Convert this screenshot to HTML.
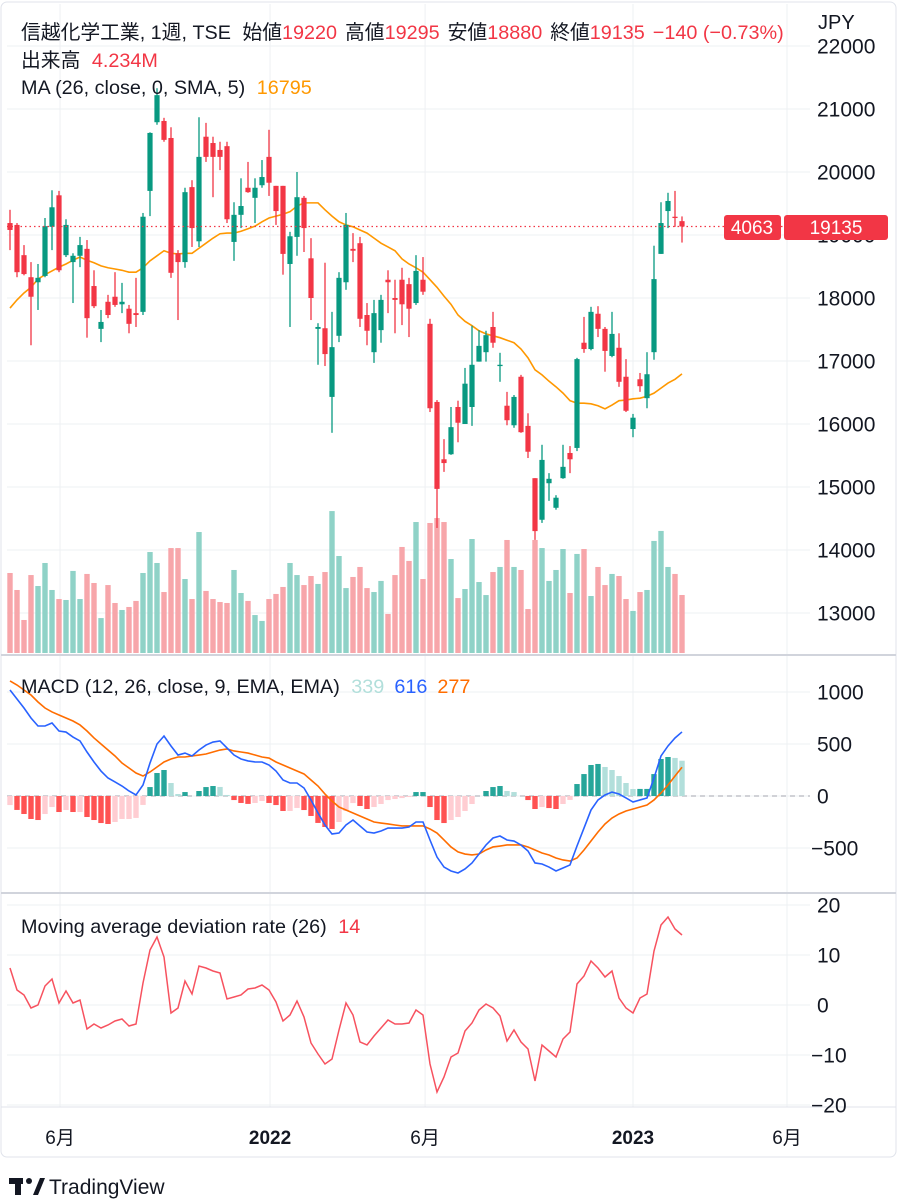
<!DOCTYPE html>
<html><head><meta charset="utf-8"><style>
body{margin:0;background:#fff;}
svg{display:block;font-family:"Liberation Sans","Noto Sans CJK JP",sans-serif;}
</style></head><body>
<svg id="chart" width="903" height="1200" viewBox="0 0 903 1200" xmlns="http://www.w3.org/2000/svg">
<rect x="1" y="2" width="895" height="1155" rx="6" fill="#fff" stroke="#e0e3eb"/>
<g id="grid"></g>
<g id="vol"></g>
<g id="ma"></g>
<g id="candles"></g>
<g id="macd"></g>
<g id="dev"></g>
<g id="axes"></g>
<text x="21" y="39" font-size="19.8" fill="#131722">信越化学工業, 1週, TSE <tspan dx="6">始値</tspan><tspan fill="#f23645">19220</tspan><tspan dx="8">高値</tspan><tspan fill="#f23645">19295</tspan><tspan dx="8">安値</tspan><tspan fill="#f23645">18880</tspan><tspan dx="8">終値</tspan><tspan fill="#f23645">19135</tspan><tspan dx="8" fill="#f23645">−140 (−0.73%)</tspan></text>
<text x="21" y="67" font-size="19.8" fill="#131722">出来高 <tspan dx="6" fill="#f23645">4.234M</tspan></text>
<text x="21" y="94" font-size="19.8" fill="#131722">MA (26, close, 0, SMA, 5) <tspan dx="6" fill="#ff9800">16795</tspan></text>
<text x="21" y="693" font-size="19.8" fill="#131722">MACD (12, 26, close, 9, EMA, EMA) <tspan dx="6" fill="#b2dfdb">339</tspan><tspan dx="10" fill="#2962ff">616</tspan><tspan dx="10" fill="#ff6d00">277</tspan></text>
<text x="21" y="933" font-size="19.8" fill="#131722">Moving average deviation rate (26) <tspan dx="6" fill="#f23645">14</tspan></text>
<text x="818" y="29" font-size="20" fill="#131722">JPY</text>
<g>
<rect x="724" y="215" width="57" height="25" rx="3" fill="#f23645"/>
<text x="752" y="234" font-size="19" fill="#fff" text-anchor="middle">4063</text>
<rect x="784" y="215" width="104" height="25" rx="3" fill="#f23645"/>
<text x="836" y="234" font-size="19" fill="#fff" text-anchor="middle">19135</text>
</g>
<g>
<rect x="9" y="1178" width="14" height="6" fill="#131722"/><rect x="15" y="1178" width="6" height="17" fill="#131722"/>
<circle cx="29" cy="1181" r="3" fill="#131722"/><path d="M33 1195 L40 1178 L45 1178 L38 1195Z" fill="#131722"/>
<text x="49" y="1194" font-size="21" fill="#131722">TradingView</text>
</g>
</svg>
<script>
const opens=[19190,19160,18680,18330,18250,18350,19130,19630,18680,18570,18670,18780,18190,17510,17940,18020,17900,17830,17760,17780,19700,20790,20810,20540,18710,18570,19760,18900,20560,20460,20350,20410,18890,19320,19750,19590,19790,20240,19780,19780,18540,18970,19590,18630,17510,17520,16430,17400,18250,18780,18870,17730,17140,17490,18290,18000,18290,18220,17920,18290,17590,16350,15440,15520,16270,16000,16270,16990,17140,17540,16920,16290,15980,16750,15970,15140,14480,15060,14670,15140,15540,15620,17290,17190,17750,17510,17080,17210,16750,15920,16710,16410,17140,18700,19380,19290,19220];
const highs=[19400,19190,18840,18570,18540,19270,19710,19700,19250,18710,18970,18920,18440,17810,18050,18410,18240,17890,18320,19350,20630,21330,20860,20710,18760,19750,19870,20870,20780,20560,20480,20480,19520,19900,20160,19900,20190,20670,19780,19780,19050,20000,19620,18950,17600,18560,17780,18410,19350,19030,18970,17920,17970,18050,18440,18290,18480,18320,18680,18650,17670,16380,15760,16270,16370,16890,17560,17490,17480,17780,17130,16510,16460,16780,16170,15140,15670,15220,14870,15670,15650,17050,17700,17860,17870,17540,17780,17440,17030,16160,16810,17140,18830,19520,19670,19700,19295];
const lows=[18760,18330,18360,17250,17810,18330,18760,18410,18650,17920,18490,17370,17840,17300,17680,17860,17760,17440,17540,17730,19300,20750,20480,18320,17650,18480,18810,18810,20160,19600,20030,19190,18590,19110,19670,19190,19750,19620,19160,18370,17540,18670,18730,17650,16940,16920,15860,17300,18130,18570,17540,17250,16970,17290,17760,17440,17570,17380,17890,18050,16190,14350,15240,15510,15710,16000,15970,16990,16990,17210,16670,15980,15940,15860,15460,14160,14430,14780,14640,15130,15220,15570,17130,17170,17380,16830,17060,16590,16190,15790,16510,16250,17020,18700,19110,19130,18880];
const closes=[19080,18410,18380,18020,18320,19140,19440,18440,19160,18670,18840,17680,17870,17620,17730,17890,17940,17590,17730,19290,20620,21220,20510,18400,18570,19680,19110,20240,20240,20240,20240,19250,19320,19460,19680,19750,19920,19830,19380,18700,18980,19600,19110,18000,17540,17110,17220,18320,19160,18750,17670,17480,17760,17970,18250,17970,17900,17830,18430,18100,16250,14970,15380,15950,16020,16640,16940,17240,17410,17290,16940,16060,16430,15870,15560,14300,15430,15130,14830,15320,15440,17030,17190,17780,17510,17160,17430,16670,16210,16100,16600,16790,18300,19190,19540,19270,19135];
const volumes=[5.84,4.60,2.41,5.69,4.89,6.57,4.60,3.94,3.87,5.99,3.94,5.77,5.11,2.55,4.96,3.65,3.14,3.36,3.80,5.84,7.37,6.57,4.45,7.66,7.66,5.40,3.94,8.83,4.53,3.94,3.72,3.65,6.06,4.38,3.80,2.77,2.34,3.94,4.31,4.82,6.57,5.69,4.96,5.62,5.04,5.91,10.36,7.08,4.74,5.55,6.28,4.74,4.45,5.26,2.85,5.69,7.74,6.72,9.56,5.40,9.49,9.85,9.56,6.86,4.01,4.67,8.32,5.18,4.23,5.91,6.28,8.25,6.28,6.06,3.21,8.25,7.66,5.26,6.06,7.59,4.38,7.23,7.59,4.16,6.28,4.96,5.77,5.62,3.94,3.07,4.45,4.60,8.18,8.91,6.28,5.77,4.234];
const maValues=[17840,17970,18080,18170,18300,18370,18430,18490,18540,18600,18650,18600,18560,18510,18480,18460,18440,18410,18410,18480,18590,18670,18750,18710,18700,18710,18710,18790,18870,18950,19020,19030,19030,19060,19100,19140,19210,19270,19300,19330,19370,19460,19510,19510,19510,19400,19300,19210,19160,19130,19080,19030,18950,18870,18810,18750,18620,18540,18480,18410,18290,18170,18030,17900,17730,17630,17560,17480,17430,17400,17370,17330,17290,17190,17050,16860,16780,16680,16590,16490,16370,16330,16330,16320,16290,16240,16300,16370,16380,16400,16410,16440,16490,16570,16650,16710,16795];
const macdLine=[1019,933,846,750,673,673,702,625,615,567,529,423,327,240,173,135,96,48,10,106,317,500,577,481,394,413,385,442,490,519,529,462,394,356,337,327,327,298,240,154,125,125,77,-38,-163,-279,-365,-356,-279,-231,-288,-346,-356,-337,-308,-308,-308,-298,-250,-250,-423,-587,-683,-721,-740,-702,-644,-558,-471,-404,-385,-423,-433,-471,-529,-644,-654,-683,-721,-692,-663,-481,-308,-135,-38,10,38,19,-19,-58,-38,-19,173,385,481,558,616];
const signalLine=[1106,1067,1019,971,904,846,808,779,750,721,683,625,558,500,442,385,317,269,221,192,231,279,327,356,375,375,385,394,404,423,442,452,433,423,413,394,375,365,327,298,269,240,212,154,96,19,-48,-106,-135,-163,-192,-221,-250,-260,-269,-279,-288,-288,-288,-288,-317,-356,-423,-490,-538,-558,-567,-558,-519,-490,-481,-471,-471,-471,-490,-519,-548,-567,-596,-615,-625,-596,-519,-433,-346,-269,-212,-173,-144,-125,-106,-87,-38,29,106,192,277];
const deviation=[7.4,3.0,2.0,-0.6,0,3.8,5.2,0.4,2.8,0.4,1.0,-4.8,-3.8,-4.6,-4.0,-3.2,-2.8,-4.2,-3.8,4.4,11,13.6,9.6,-1.6,-0.6,4.8,2.2,7.8,7.4,6.8,6.4,1.2,1.6,2.0,3.2,3.4,4.0,3.0,0.6,-3.2,-2.0,0.8,-2.4,-7.6,-9.8,-11.8,-10.8,-5.0,0.4,-2.0,-7.4,-8.0,-6.2,-4.6,-3.0,-3.8,-3.8,-3.6,-1.0,-2.0,-11.8,-17.4,-14.4,-10.4,-9.6,-5.2,-3.6,-1.0,0.2,-0.6,-2.2,-7.2,-5.0,-7.4,-8.8,-15.2,-8.0,-9.2,-10.4,-6.8,-5.4,4.2,5.8,8.8,7.4,5.6,6.8,1.4,-0.6,-1.6,1.4,2.2,10.8,16,17.6,15.2,14];
const priceTicks=[22000,21000,20000,19000,18000,17000,16000,15000,14000,13000];
const macdTicks=[1000,500,0,-500];
const devTicks=[20,10,0,-10,-20];
const timeLabels=["6月","2022","6月","2023","6月"];
const timeIndex=[7.15,37.15,59.3,89.0,111.0];
const lastPrice=19135;

const NS="http://www.w3.org/2000/svg";
function mk(parent,tag,attrs){const e=document.createElementNS(NS,tag);for(const k in attrs)e.setAttribute(k,attrs[k]);parent.appendChild(e);return e;}
const xOf=i=>10+7*i;
const yPrice=p=>172+(20000-p)*0.063;
const yVol=v=>653-v*13.7;
const yMacd=v=>796-v*0.104;
const yDev=v=>1005-v*5;
const UP="#089981",DN="#f23645";

const grid=document.getElementById('grid');
timeIndex.forEach((t,k)=>{
  const l=mk(grid,'line',{x1:xOf(t),x2:xOf(t),y1:4,y2:1107,stroke:'#eef0f3','stroke-width':1});
  
  
});
priceTicks.forEach(p=>{const l=mk(grid,'line',{x1:7,x2:810,y1:yPrice(p),y2:yPrice(p),stroke:'#eef0f3'});
  
  });
macdTicks.forEach(v=>{const l=mk(grid,'line',{x1:7,x2:810,y1:yMacd(v),y2:yMacd(v),stroke:'#eef0f3'});
  
  });
devTicks.forEach(v=>{const l=mk(grid,'line',{x1:7,x2:810,y1:yDev(v),y2:yDev(v),stroke:'#eef0f3'});
  
  });

const vol=document.getElementById('vol');
volumes.forEach((v,i)=>{const up=closes[i]>=opens[i];
  const r=mk(vol,'rect',{x:xOf(i)-2.7,y:yVol(v),width:5.4,height:653-yVol(v),fill:up?'#8fd2c7':'#f7a6aa'});
  
  });

const ma=document.getElementById('ma');
const maPath=mk(ma,'path',{d:maValues.map((v,i)=>(i?'L':'M')+xOf(i)+' '+yPrice(v)).join(' '),fill:'none',stroke:'#ff9800','stroke-width':1.6});



const cg=document.getElementById('candles');
opens.forEach((o,i)=>{const c=closes[i],up=c>=o,col=up?UP:DN,x=xOf(i);
  const w=mk(cg,'line',{x1:x,x2:x,y1:yPrice(highs[i]),y2:yPrice(lows[i]),stroke:col,'stroke-width':1.3});
  
  
  const top=yPrice(Math.max(o,c)),bot=yPrice(Math.min(o,c));
  const b=mk(cg,'rect',{x:x-2.6,y:top,width:5.2,height:Math.max(1.3,bot-top),fill:col});
  
  });
const pl=mk(cg,'line',{x1:7,x2:810,y1:yPrice(lastPrice),y2:yPrice(lastPrice),stroke:'#f23645','stroke-dasharray':'1.5 3','stroke-width':1.3});



const mg=document.getElementById('macd');
const zl=mk(mg,'line',{x1:7,x2:810,y1:yMacd(0),y2:yMacd(0),stroke:'#a3a6af','stroke-dasharray':'5 4'});


macdLine.forEach((m,i)=>{const h=m-signalLine[i],prev=i?macdLine[i-1]-signalLine[i-1]:h;
  let col;if(h>=0)col=h>=prev?'#26a69a':'#b2dfdb';else col=h<prev?'#ff5252':'#ffcdd2';
  const y0=yMacd(0),y1=yMacd(h);
  const r=mk(mg,'rect',{x:xOf(i)-2.7,y:Math.min(y0,y1),width:5.4,height:Math.abs(y1-y0),fill:col});
  
  });
const sp=mk(mg,'path',{d:signalLine.map((v,i)=>(i?'L':'M')+xOf(i)+' '+yMacd(v)).join(' '),fill:'none',stroke:'#ff6d00','stroke-width':1.6});


const mp=mk(mg,'path',{d:macdLine.map((v,i)=>(i?'L':'M')+xOf(i)+' '+yMacd(v)).join(' '),fill:'none',stroke:'#2962ff','stroke-width':1.6});



const dg=document.getElementById('dev');
const dp=mk(dg,'path',{d:deviation.map((v,i)=>(i?'L':'M')+xOf(i)+' '+yDev(v)).join(' '),fill:'none',stroke:'#f7525f','stroke-width':1.5});



const ax=document.getElementById('axes');
const sep1=mk(ax,'line',{x1:1,x2:896,y1:655,y2:655,stroke:'#d1d4dc','stroke-width':2});


const sep2=mk(ax,'line',{x1:1,x2:896,y1:893,y2:893,stroke:'#d1d4dc','stroke-width':2});


const bl=mk(ax,'line',{x1:1,x2:896,y1:1107,y2:1107,stroke:'#e0e3eb'});


const fmt=v=>v<0?'−'+Math.abs(v):String(v);
priceTicks.forEach(p=>{const t=mk(ax,'text',{x:817,y:yPrice(p)+7.5,'font-size':21,fill:'#131722'});t.textContent=p;
  
  });
macdTicks.forEach(v=>{const t=mk(ax,'text',{x:v<0?811:817,y:yMacd(v)+7.5,'font-size':21,fill:'#131722'});t.textContent=fmt(v);
  
  });
devTicks.forEach(v=>{const t=mk(ax,'text',{x:v<0?811:817,y:yDev(v)+7.5,'font-size':21,fill:'#131722'});t.textContent=fmt(v);
  
  });
timeLabels.forEach((s,k)=>{const bold=/^\d{4}$/.test(s);
  const t=mk(ax,'text',{x:xOf(timeIndex[k]),y:1144,'font-size':19,fill:'#131722','text-anchor':'middle','font-weight':bold?'bold':'normal'});t.textContent=s;
  
  });
</script>
</body></html>
